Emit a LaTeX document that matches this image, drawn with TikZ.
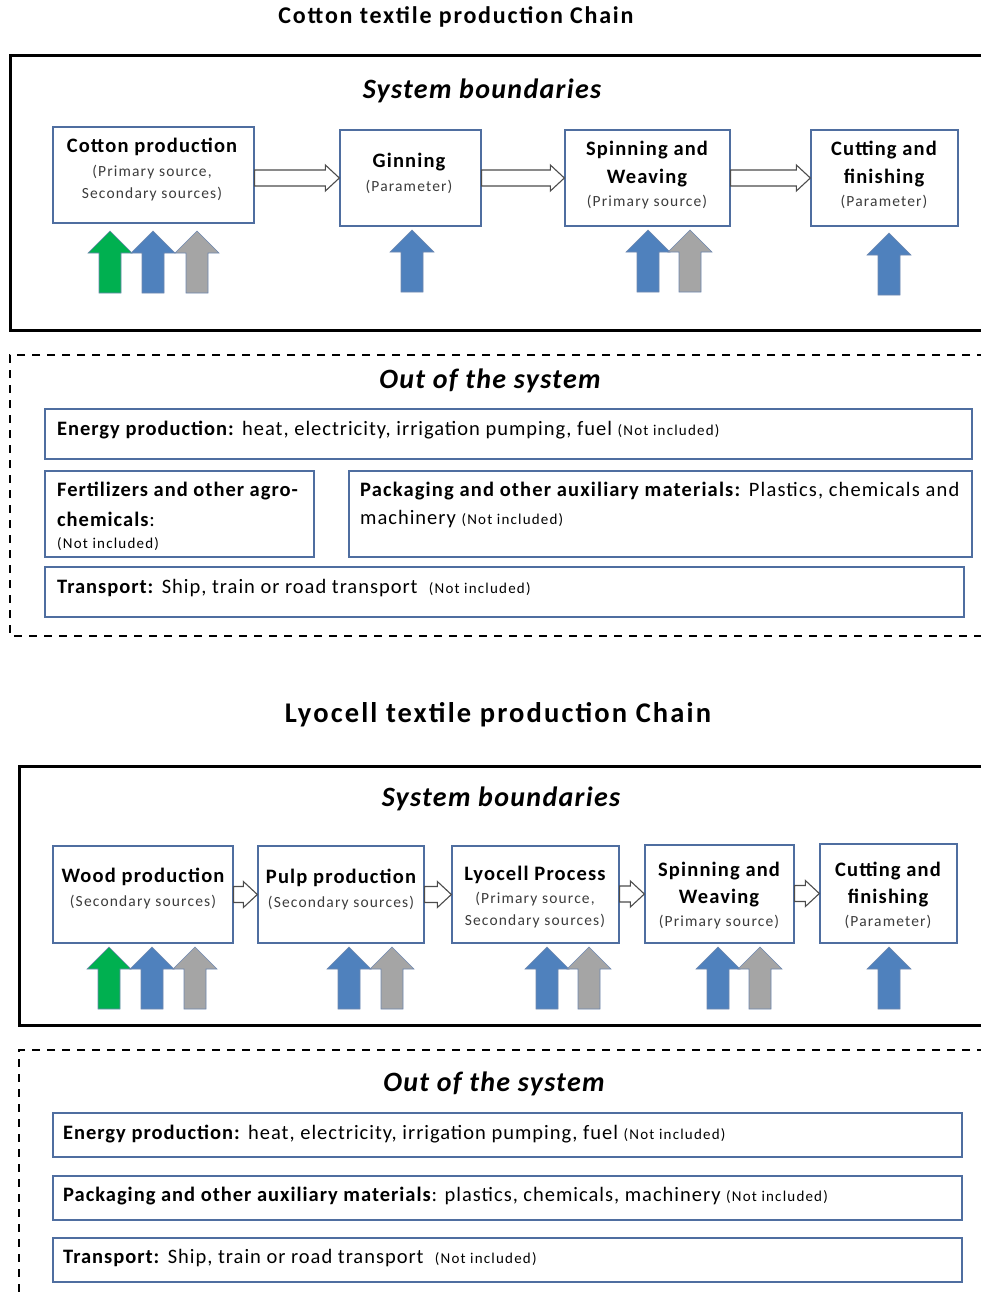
\documentclass[tikz,border=0pt]{standalone}
\usepackage{fontspec}
\setmainfont{Carlito}
\newfontfamily\lsA{Carlito}[LetterSpace=5.6]
\newfontfamily\lsB{Carlito}[LetterSpace=7.5]
\newfontfamily\lsC{Carlito}[LetterSpace=4.8]
\newfontfamily\lsD{Carlito}[LetterSpace=8]
\newfontfamily\lsE{Carlito}[LetterSpace=4.7]
\newfontfamily\lsF{Carlito}[LetterSpace=7.5]
\usetikzlibrary{fit,calc}
\definecolor{boxblue}{RGB}{79,110,160}
\definecolor{arrgreen}{RGB}{0,176,80}
\definecolor{arrblue}{RGB}{79,129,189}
\definecolor{arrgray}{RGB}{165,165,165}
\definecolor{arrline}{RGB}{110,135,175}
\definecolor{partxt}{RGB}{60,60,60}
\newcommand\fsz[1]{\fontsize{#1}{#1}\selectfont}
\tikzset{
  proc/.style={draw=boxblue, line width=1.3pt, inner sep=0pt, fill=white},
  outbox/.style={draw=boxblue, line width=1.3pt, inner sep=0pt},
  ptitle/.style={font=\lsA\fsz{20.5}\bfseries, inner sep=0pt},
  psub/.style={font=\lsB\fsz{15.5}, text=partxt, inner sep=0pt},
  otext/.style={font=\lsC\fsz{20.5}, inner sep=0pt, anchor=west},
  chaintitle/.style={inner sep=0pt},
  sectitle/.style={font=\lsE\fsz{28}\bfseries\itshape, inner sep=0pt},
  solidframe/.style={draw=black, line width=3pt},
  dashframe/.style={draw=black, line width=2.6pt, dash pattern=on 8pt off 7pt},
  hollow/.style={draw=black!70, fill=white, line width=1.1pt, line join=miter},
}
\newcommand\notinc{{\lsD\fsz{15}(Not included)}}
% block arrow: center x, top y, colour
\newcommand\blockup[3]{%
  \filldraw[fill=#3, draw=arrline, line width=0.6pt]
    (#1-22,#2+22) -- (#1,#2) -- (#1+22,#2+22) -- (#1+11,#2+22) -- (#1+11,#2+62)
    -- (#1-11,#2+62) -- (#1-11,#2+22) -- cycle;}
% hollow arrow from node #1 to node #2
\newcommand\hollowarrow[2]{%
  \draw[hollow] let \p1=(#1.east), \p2=(#2.west) in
    (\x1,\y2+8pt) -- (\x2-14pt,\y2+8pt) -- (\x2-14pt,\y2+13pt) -- (\x2,\y2)
    -- (\x2-14pt,\y2-13pt) -- (\x2-14pt,\y2-8pt) -- (\x1,\y2-8pt) -- cycle;}
\begin{document}
\begin{tikzpicture}[x=1pt,y=-1pt]
\useasboundingbox (0,0) rectangle (981,1297);
\clip (0,0) rectangle (981,1297);

% ================= COTTON =================
\node[chaintitle, font=\lsF\fsz{24}\bfseries] (t1) at (456,17) {Cotton textile production Chain};
\draw[solidframe] (1000,56) -- (10,56) -- (10,330) -- (1000,330);
\node[sectitle] (sb1) at (482,91) {System boundaries};

\node[proc, fit={(53,127) (254,223)}] (cp) {};
\node[ptitle] (cpt) at (152,147) {Cotton production};
\node[psub] (cps1) at (152,172) {(Primary source,};
\node[psub] (cps2) at (152,194) {Secondary sources)};

\node[proc, fit={(340,130) (481,226)}] (gi) {};
\node[ptitle] (git) at (409,162) {Ginning};
\node[psub] (gis) at (409,187) {(Parameter)};

\node[proc, fit={(565,130) (730,226)}] (sw) {};
\node[ptitle] (swt1) at (647,150) {Spinning and};
\node[ptitle] (swt2) at (647,178) {Weaving};
\node[psub] (sws) at (647,202) {(Primary source)};

\node[proc, fit={(811,130) (958,226)}] (cf) {};
\node[ptitle] (cft1) at (884,150) {Cutting and};
\node[ptitle] (cft2) at (884,178) {finishing};
\node[psub] (cfs) at (884,202) {(Parameter)};

\hollowarrow{cp}{gi}
\hollowarrow{gi}{sw}
\hollowarrow{sw}{cf}

\blockup{110}{231}{arrgreen}
\blockup{153}{231}{arrblue}
\blockup{197}{231}{arrgray}
\blockup{412}{230}{arrblue}
\blockup{648}{230}{arrblue}
\blockup{690}{230}{arrgray}
\blockup{889}{233}{arrblue}

\draw[dashframe] (1000,355) -- (10,355) -- (10,636) -- (1000,636);
\node[sectitle] (os1) at (490,381) {Out of the system};

\node[outbox, fit={(45,409) (972,459)}] (en1) {};
\node[otext] (en1t) at (57,430) {\textbf{Energy production:} heat, electricity, irrigation pumping, fuel \notinc};

\node[outbox, fit={(45,471) (314,557)}] (fe1) {};
\node[otext] (fe1a) at (57,491) {\textbf{Fertilizers and other agro-}};
\node[otext] (fe1b) at (57,519) {\textbf{chemicals}:};
\node[otext, font=\lsD\fsz{15}] (fe1c) at (57,544) {(Not included)};

\node[outbox, fit={(349,471) (972,557)}] (pk1) {};
\node[otext, font=\lsA\fsz{20.5}] (pk1a) at (360,491) {\textbf{Packaging and other auxiliary materials:} Plastics, chemicals and};
\node[otext] (pk1b) at (360,519) {machinery \notinc};

\node[outbox, fit={(45,567) (964,617)}] (tr1) {};
\node[otext] (tr1t) at (57,588) {\textbf{Transport:} Ship, train or road transport\ \ \notinc};

% ================= LYOCELL =================
\node[chaintitle, font=\lsF\fsz{28.5}\bfseries] (t2) at (498,715) {Lyocell textile production Chain};
\draw[solidframe] (1000,766) -- (19,766) -- (19,1025) -- (1000,1025);
\node[sectitle] (sb2) at (501,799) {System boundaries};

\node[proc, fit={(53,846) (233,943)}] (wp) {};
\node[ptitle] (wpt) at (143,877) {Wood production};
\node[psub] (wps) at (143,902) {(Secondary sources)};

\node[proc, fit={(258,846) (424,943)}] (pp) {};
\node[ptitle] (ppt) at (341,878) {Pulp production};
\node[psub] (pps) at (341,903) {(Secondary sources)};

\node[proc, fit={(452,846) (619,943)}] (lp) {};
\node[ptitle] (lpt) at (535,875) {Lyocell Process};
\node[psub] (lps1) at (535,899) {(Primary source,};
\node[psub] (lps2) at (535,921) {Secondary sources)};

\node[proc, fit={(645,845) (794,943)}] (sw2) {};
\node[ptitle] (sw2t1) at (719,871) {Spinning and};
\node[ptitle] (sw2t2) at (719,898) {Weaving};
\node[psub] (sw2s) at (719,922) {(Primary source)};

\node[proc, fit={(820,844) (957,943)}] (cf2) {};
\node[ptitle] (cf2t1) at (888,871) {Cutting and};
\node[ptitle] (cf2t2) at (888,898) {finishing};
\node[psub] (cf2s) at (888,922) {(Parameter)};

\hollowarrow{wp}{pp}
\hollowarrow{pp}{lp}
\hollowarrow{lp}{sw2}
\hollowarrow{sw2}{cf2}

\blockup{109}{947}{arrgreen}
\blockup{152}{947}{arrblue}
\blockup{195}{947}{arrgray}
\blockup{349}{947}{arrblue}
\blockup{392}{947}{arrgray}
\blockup{547}{947}{arrblue}
\blockup{589}{947}{arrgray}
\blockup{718}{947}{arrblue}
\blockup{760}{947}{arrgray}
\blockup{889}{947}{arrblue}

\draw[dashframe] (1000,1050) -- (19,1050) -- (19,1310);
\node[sectitle] (os2) at (494,1084) {Out of the system};

\node[outbox, fit={(53,1113) (962,1157)}] (en2) {};
\node[otext] (en2t) at (63,1134) {\textbf{Energy production:} heat, electricity, irrigation pumping, fuel \notinc};

\node[outbox, fit={(53,1176) (962,1220)}] (pk2) {};
\node[otext] (pk2t) at (63,1196) {\textbf{Packaging and other auxiliary materials}: plastics, chemicals, machinery \notinc};

\node[outbox, fit={(53,1238) (962,1282)}] (tr2) {};
\node[otext] (tr2t) at (63,1258) {\textbf{Transport:} Ship, train or road transport\ \ \notinc};
\end{tikzpicture}
\end{document}
